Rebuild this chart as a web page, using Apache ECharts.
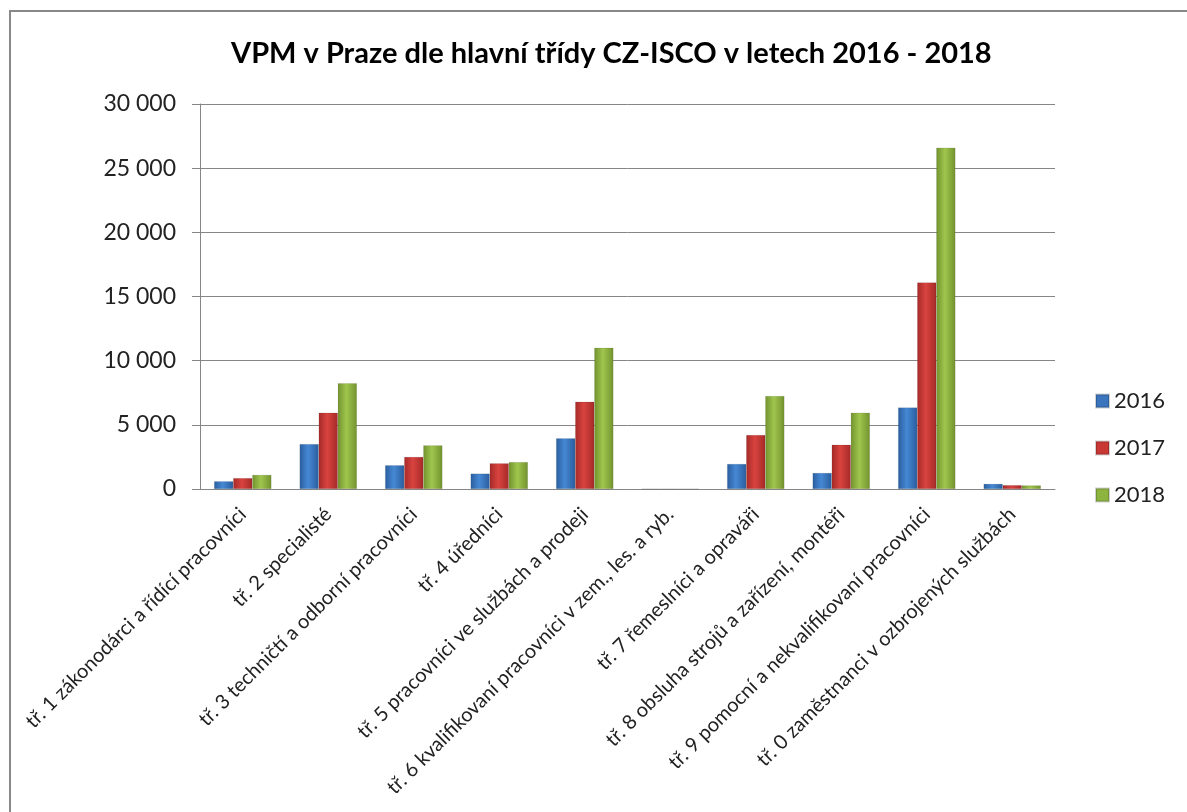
<!DOCTYPE html>
<html><head><meta charset="utf-8">
<script src="https://cdn.jsdelivr.net/npm/echarts@6/dist/echarts.min.js"></script>
<style>html,body{margin:0;padding:0;background:#fff}#c{width:1187px;height:812px}</style>
</head><body><div id="c"></div>
<script>
const categories = [
  'tř. 1 zákonodárci a řídící pracovníci',
  'tř. 2 specialisté',
  'tř. 3 techničtí a odborní pracovníci',
  'tř. 4 úředníci',
  'tř. 5 pracovníci ve službách a prodeji',
  'tř. 6 kvalifikovaní pracovníci v zem., les. a ryb.',
  'tř. 7 řemeslníci a opraváři',
  'tř. 8 obsluha strojů a zařízení, montéři',
  'tř. 9 pomocní a nekvalifikovaní pracovníci',
  'tř. 0 zaměstnanci v ozbrojených službách'
];
const years = ['2016', '2017', '2018'];
const v2016 = [600, 3500, 1850, 1200, 3950, 20, 1950, 1250, 6350, 400];
const v2017 = [850, 5950, 2500, 2000, 6800, 15, 4200, 3450, 16100, 300];
const v2018 = [1100, 8250, 3400, 2100, 11000, 10, 7250, 5950, 26600, 280];
const yTicks = [0, 5000, 10000, 15000, 20000, 25000, 30000];

const FONT = 'Lato';
function grad(edge, mid) {
  return new echarts.graphic.LinearGradient(0, 0, 1, 0, [
    {offset: 0, color: edge}, {offset: 0.45, color: mid}, {offset: 1, color: edge}
  ]);
}
const styles = [
  grad('#2A5E9E', '#4688D4'),
  grad('#A52A28', '#D9433F'),
  grad('#72922E', '#A0C64E')
];
const legendColors = ['#3A75BE', '#C83835', '#8DB43F'];
const data = [v2016, v2017, v2018];

const chart = echarts.init(document.getElementById('c'));
chart.setOption({
  animation: false,
  textStyle: {fontFamily: FONT},
  title: {
    text: 'VPM v Praze dle hlavní třídy CZ-ISCO v letech 2016 - 2018',
    left: 226, top: 34,
    textStyle: {fontFamily: FONT, fontWeight: 'bold', fontSize: 29, color: '#000'}
  },
  graphic: [{
    type: 'rect', shape: {x: 10, y: 11, width: 1200, height: 830},
    style: {fill: 'none', stroke: '#888', lineWidth: 2}, silent: true, z: -1
  }],
  legend: {
    orient: 'vertical', left: 1090, top: 385, itemGap: 25,
    itemWidth: 13, itemHeight: 13, icon: 'rect',
    textStyle: {fontFamily: FONT, fontSize: 22, color: '#222'},
    data: years.map((y, i) => ({name: y, itemStyle: {color: legendColors[i]}}))
  },
  grid: {left: 200, right: 132, top: 104, bottom: 323, containLabel: false},
  xAxis: {
    type: 'category', data: categories,
    axisLine: {lineStyle: {color: '#868686', width: 1}},
    axisTick: {length: 6, lineStyle: {color: '#868686'}},
    axisLabel: {
      rotate: 45, interval: 0, margin: 22, fontSize: 20, color: '#222', fontFamily: FONT
    }
  },
  yAxis: {
    type: 'value', min: 0, max: 30000, interval: 5000,
    axisLine: {show: true, lineStyle: {color: '#868686'}},
    axisTick: {show: true, length: 8, lineStyle: {color: '#868686'}},
    splitLine: {lineStyle: {color: '#868686', width: 1}},
    axisLabel: {
      margin: 24, fontSize: 23, color: '#222', fontFamily: FONT,
      formatter: v => yTicks.includes(v) ? String(v).replace(/\B(?=(\d{3})+(?!\d))/g, ' ') : ''
    }
  },
  series: years.map((y, i) => ({
    name: y, type: 'bar', data: data[i],
    barGap: '0%', barCategoryGap: '33%',
    itemStyle: {color: styles[i], borderColor: 'rgba(0,0,0,0.18)', borderWidth: 0.5}
  }))
});
</script>
</body></html>
